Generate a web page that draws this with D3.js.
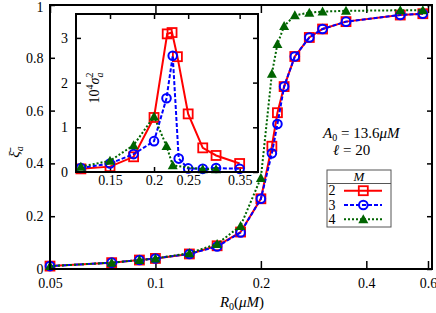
<!DOCTYPE html>
<html><head><meta charset="utf-8">
<script src="https://cdn.jsdelivr.net/npm/d3@7"></script>
<style>body{margin:0;background:#fff}svg{display:block}text{font-family:"Liberation Serif",serif;}</style>
</head><body><svg id="c" width="436" height="313"></svg>
<script>
// ---- data ----
const mainX  = [0.05, 0.075, 0.09, 0.1, 0.125, 0.15, 0.175, 0.2, 0.215, 0.223, 0.233, 0.25, 0.275, 0.3, 0.35, 0.5, 0.58];
const mainM2 = [0.011, 0.024, 0.034, 0.04, 0.057, 0.088, 0.14, 0.266, 0.465, 0.592, 0.691, 0.805, 0.877, 0.909, 0.937, 0.962, 0.967];
const mainM3 = [0.011, 0.024, 0.034, 0.04, 0.057, 0.085, 0.138, 0.266, 0.438, 0.549, 0.691, 0.805, 0.877, 0.909, 0.937, 0.962, 0.967];
const mainM4 = [0.011, 0.024, 0.034, 0.04, 0.06, 0.095, 0.163, 0.345, 0.74, 0.852, 0.92, 0.961, 0.971, 0.975, 0.978, 0.98, 0.98];

const insetX2 = [0.124, 0.15, 0.175, 0.2, 0.218, 0.225, 0.233, 0.25, 0.275, 0.3, 0.35];
const insetM2 = [0.07, 0.12, 0.34, 1.22, 3.09, 3.12, 2.58, 1.30, 0.54, 0.37, 0.19];
const insetX3 = [0.124, 0.15, 0.175, 0.2, 0.217, 0.226, 0.235, 0.25, 0.275, 0.3, 0.35];
const insetM3 = [0.09, 0.19, 0.40, 0.69, 1.65, 2.6, 0.3, 0.08, 0.07, 0.09, 0.07];
const insetX4 = [0.124, 0.15, 0.175, 0.2, 0.217, 0.226, 0.275, 0.3];
const insetM4 = [0.12, 0.25, 0.60, 1.24, 0.58, 0.15, 0.06, 0.06];

const mainXTicks = [0.05, 0.1, 0.2, 0.4, 0.6];
const mainXLabels = ["0.05", "0.1", "0.2", "0.4", "0.6"];
const mainYTicks = [0, 0.2, 0.4, 0.6, 0.8, 1];
const mainYLabels = ["0", "0.2", "0.4", "0.6", "0.8", "1"];
const insetXTicks = [0.15, 0.2, 0.25, 0.35];
const insetXLabels = ["0.15", "0.2", "0.25", "0.35"];
const insetYTicks = [0, 1, 2, 3];
const insetYLabels = ["0", "1", "2", "3"];
const legendLabels = ["2", "3", "4"];

// ---- styles ----
const RED = "#ff0000", BLUE = "#0000ff", GREEN = "#006400";
const svg = d3.select("#c");

function drawPanel(g, x, y, xt, xl, yt, yl, pad) {
  const [x0, x1] = x.range(), [y0, y1] = y.range();
  const fmt = (ticks, labels) => (d) => labels[ticks.indexOf(d)];
  const gb = g.append("g").attr("transform", `translate(0,${y0})`)
    .call(d3.axisBottom(x).tickValues(xt).tickFormat(fmt(xt, xl)).tickSizeInner(-pad.xt).tickSizeOuter(0).tickPadding(pad.xp));
  const gt = g.append("g").attr("transform", `translate(0,${y1})`)
    .call(d3.axisTop(x).tickValues(xt).tickFormat("").tickSizeInner(-pad.xt).tickSizeOuter(0));
  const gl = g.append("g").attr("transform", `translate(${x0},0)`)
    .call(d3.axisLeft(y).tickValues(yt).tickFormat(fmt(yt, yl)).tickSizeInner(-pad.yt).tickSizeOuter(0).tickPadding(pad.yp));
  const gr = g.append("g").attr("transform", `translate(${x1},0)`)
    .call(d3.axisRight(y).tickValues(yt).tickFormat("").tickSizeInner(-pad.yt).tickSizeOuter(0));
  [gb, gt, gl, gr].forEach(a => {
    a.select(".domain").remove();
    a.selectAll("line").attr("stroke", "#000").attr("stroke-width", 1.5);
    a.selectAll("text").attr("font-family", "Liberation Serif").attr("font-size", 14).attr("fill", "#000");
  });
  return gl;
}

function series(g, x, y, xs, ys, color, dash, shape) {
  const pts = xs.map((d, i) => [x(d), y(ys[i])]);
  g.append("path").attr("d", d3.line()(pts)).attr("fill", "none")
    .attr("stroke", color).attr("stroke-width", 2).attr("stroke-dasharray", dash);
  const m = g.append("g");
  pts.forEach(([px, py]) => {
    if (shape === "sq") m.append("rect").attr("x", px - 4.5).attr("y", py - 4.5).attr("width", 9).attr("height", 9)
      .attr("fill", "none").attr("stroke", color).attr("stroke-width", 1.8);
    else if (shape === "ci") m.append("circle").attr("cx", px).attr("cy", py).attr("r", 4.3)
      .attr("fill", "none").attr("stroke", color).attr("stroke-width", 2);
    else m.append("path").attr("d", `M${px},${py - 5}L${px + 5},${py + 4}L${px - 5},${py + 4}Z`).attr("fill", color);
  });
}

// ---- main panel ----
const X = d3.scaleLog().domain([0.05, 0.616]).range([50, 432]);
const Y = d3.scaleLinear().domain([0, 1]).range([269, 5]);
const gm = svg.append("g");
const gmLeft = drawPanel(gm, X, Y, mainXTicks, mainXLabels, mainYTicks, mainYLabels, {xt: 8, xp: 9, yt: 5, yp: 6.5});
// keep the top "1" label inside the picture
gmLeft.selectAll(".tick text").filter(d => d === 1).attr("dy", "0.45em");
series(gm, X, Y, mainX, mainM2, RED, null, "sq");
series(gm, X, Y, mainX, mainM3, BLUE, "4,2", "ci");
series(gm, X, Y, mainX, mainM4, GREEN, "2,2", "tr");
gm.append("rect").attr("x", 50).attr("y", 5).attr("width", 382).attr("height", 264)
  .attr("fill", "none").attr("stroke", "#000").attr("stroke-width", 2);

// ---- inset ----
const XI = d3.scaleLog().domain([0.1201, 0.3946]).range([76, 258]);
const YI = d3.scaleLinear().domain([0, 3.535]).range([172, 14]);
const gi = svg.append("g");
gi.append("rect").attr("x", 76).attr("y", 14).attr("width", 182).attr("height", 158).attr("fill", "#fff");
drawPanel(gi, XI, YI, insetXTicks, insetXLabels, insetYTicks, insetYLabels, {xt: 5, xp: 3, yt: 5, yp: 8});
series(gi, XI, YI, insetX2, insetM2, RED, null, "sq");
series(gi, XI, YI, insetX3, insetM3, BLUE, "4,2", "ci");
series(gi, XI, YI, insetX4, insetM4, GREEN, "2,2", "tr");
gi.append("rect").attr("x", 76).attr("y", 14).attr("width", 182).attr("height", 158)
  .attr("fill", "none").attr("stroke", "#000").attr("stroke-width", 2);

// inset y label 10^4 σ_a^2
const il = svg.append("text").attr("transform", "translate(99,88) rotate(-90)")
  .attr("text-anchor", "middle").attr("font-size", 14);
il.append("tspan").text("10");
il.append("tspan").attr("font-size", 10).attr("dy", -6).text("4");
il.append("tspan").attr("font-style", "italic").attr("dy", 6).text("σ");
il.append("tspan").attr("font-size", 10).attr("dy", -6).text("2");
il.append("tspan").attr("font-size", 10).attr("font-style", "italic").attr("dx", -5).attr("dy", 10).text("a");

// main y label
const yl = svg.append("text").attr("transform", "translate(19,152) rotate(-90)")
  .attr("text-anchor", "middle").attr("font-size", 15);
yl.append("tspan").attr("font-style", "italic").text("ξ\u0304");
yl.append("tspan").attr("font-size", 10).attr("font-style", "italic").attr("dy", 4).text("a");

// x label
const xl = svg.append("text").attr("x", 242).attr("y", 307).attr("text-anchor", "middle").attr("font-size", 15);
xl.append("tspan").attr("font-style", "italic").text("R");
xl.append("tspan").attr("font-size", 10).attr("dy", 3).text("0");
xl.append("tspan").attr("dy", -3).text("(");
xl.append("tspan").attr("font-style", "italic").text("μM");
xl.append("tspan").text(")");

// annotation
const a1 = svg.append("text").attr("x", 323).attr("y", 138).attr("font-size", 15);
a1.append("tspan").attr("font-style", "italic").text("A");
a1.append("tspan").attr("font-size", 10).attr("dy", 3).text("0");
a1.append("tspan").attr("dy", -3).text(" = 13.6");
a1.append("tspan").attr("font-style", "italic").text("μM");
const a2 = svg.append("text").attr("x", 333).attr("y", 155).attr("font-size", 15);
a2.append("tspan").attr("font-style", "italic").text("ℓ");
a2.append("tspan").text(" = 20");

// legend
const lg = svg.append("g");
lg.append("rect").attr("x", 327).attr("y", 170).attr("width", 64).attr("height", 57)
  .attr("fill", "#fff").attr("stroke", "#555").attr("stroke-width", 1);
lg.append("line").attr("x1", 327).attr("x2", 391).attr("y1", 183.5).attr("y2", 183.5).attr("stroke", "#555");
lg.append("text").attr("x", 359).attr("y", 181).attr("text-anchor", "middle").attr("font-size", 13)
  .attr("font-style", "italic").text("M");
const lcolors = [RED, BLUE, GREEN], ldash = [null, "4,2", "2,2"], lshape = ["sq", "ci", "tr"];
legendLabels.forEach((lab, i) => {
  const cy = 190.7 + i * 14.3;
  lg.append("text").attr("x", 328.5).attr("y", cy + 4.5).attr("font-size", 14).text(lab);
  lg.append("line").attr("x1", 344).attr("x2", 382).attr("y1", cy).attr("y2", cy)
    .attr("stroke", lcolors[i]).attr("stroke-width", 2).attr("stroke-dasharray", ldash[i]);
  const px = 363.3;
  if (lshape[i] === "sq") lg.append("rect").attr("x", px - 4.5).attr("y", cy - 4.5).attr("width", 9).attr("height", 9)
    .attr("fill", "none").attr("stroke", RED).attr("stroke-width", 1.8);
  else if (lshape[i] === "ci") lg.append("circle").attr("cx", px).attr("cy", cy).attr("r", 4.3)
    .attr("fill", "none").attr("stroke", BLUE).attr("stroke-width", 2);
  else lg.append("path").attr("d", `M${px},${cy - 5}L${px + 5},${cy + 4}L${px - 5},${cy + 4}Z`).attr("fill", GREEN);
});
</script></body></html>
